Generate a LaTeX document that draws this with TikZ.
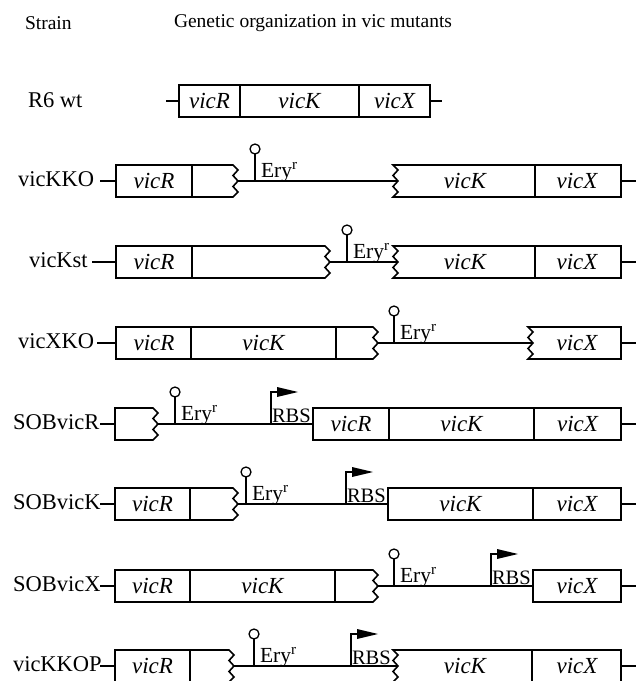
\documentclass[tikz,border=0pt]{standalone}
\usepackage{fontspec}
\setmainfont{Liberation Serif}

% gene fragment ending on the right in a broken (zigzag) edge: #1 left x, #2 zigzag x, #3 row y
\newcommand{\leftpiece}[3]{%
  \draw[gene] (#2,#3-16) -- (#1,#3-16) -- (#1,#3+16) -- (#2,#3+16)
    -- (#2+5,#3+11) -- (#2,#3+5.5) -- (#2+5,#3) -- (#2,#3-5.5) -- (#2+5,#3-11) -- cycle;}
% gene fragment starting on the left with a broken edge: #1 zigzag x, #2 right x, #3 row y
\newcommand{\rightpiece}[3]{%
  \draw[gene] (#1,#3-16) -- (#2,#3-16) -- (#2,#3+16) -- (#1,#3+16)
    -- (#1+5,#3+11) -- (#1,#3+5.5) -- (#1+5,#3) -- (#1,#3-5.5) -- (#1+5,#3-11) -- cycle;}
% plain gene box: #1 left x, #2 right x, #3 row y
\newcommand{\genebox}[3]{\draw[gene] (#1,#3-16) rectangle (#2,#3+16);}
% border between two genes: #1 x, #2 row y
\newcommand{\genesep}[2]{\draw[gene] (#1,#2-16) -- (#1,#2+16);}
% terminator with resistance marker: #1 name, #2 x, #3 row y
\newcommand{\eryterm}[3]{%
  \coordinate (#1-foot) at (#2,#3);
  \coordinate (#1-head) at (#2,#3-27);
  \draw[dna] (#1-foot) -- (#1-head);
  \draw[line width=1.3pt] (#2,#3-32) circle[radius=5pt];
  \node[erytxt] (#1-txt) at (#2+6,#3-4) {Ery\textsuperscript{r}};}
% promoter arrow with RBS: #1 name, #2 x, #3 row y
\newcommand{\rbsprom}[3]{%
  \coordinate (#1-foot) at (#2,#3);
  \coordinate (#1-bend) at (#2,#3-32);
  \coordinate (#1-base) at (#2+6,#3-32);
  \draw[dna] (#1-foot) -- (#1-bend) -- (#1-base);
  \fill (#2+6,#3-37) -- (#2+27,#3-32) -- (#2+6,#3-27) -- cycle;
  \node[rbstxt] (#1-txt) at (#2+1,#3-1.5) {RBS};}

\begin{document}
\begin{tikzpicture}[x=1pt,y=-1pt,
  every node/.style={inner sep=0pt, outer sep=0pt},
  gene/.style={line width=1.6pt, line join=miter},
  dna/.style={line width=1.5pt},
  heading/.style={font=\fontsize{19.5}{21}\selectfont, anchor=west},
  strain/.style={font=\fontsize{22.5}{24}\selectfont, anchor=west},
  gname/.style={font=\fontsize{23}{25}\selectfont\itshape},
  erytxt/.style={font=\fontsize{21.5}{23}\selectfont, anchor=base west},
  rbstxt/.style={font=\fontsize{20.5}{22}\selectfont, anchor=base west}]
\useasboundingbox (0,0) rectangle (636,681);

% headings
\node[heading] (hstrain) at (25,23) {Strain};
\node[heading] (htitle) at (174,23) {Genetic organization in vic mutants};

% ---------- R6 wt
\node[strain] (sR6) at (28,100) {R6 wt};
\coordinate (r6a) at (166,101); \coordinate (r6b) at (179,101);
\coordinate (r6c) at (430,101); \coordinate (r6d) at (442,101);
\draw[dna] (r6a) -- (r6b); \draw[dna] (r6c) -- (r6d);
\genebox{179}{430}{101} \genesep{240}{101} \genesep{359}{101}
\node[gname] (r6R) at (209.5,101) {vicR};
\node[gname] (r6K) at (299.5,101) {vicK};
\node[gname] (r6X) at (394.5,101) {vicX};

% ---------- vicKKO
\node[strain] (sKKO) at (18,179) {vicKKO};
\coordinate (kkoA) at (100,181); \coordinate (kkoB) at (116,181);
\coordinate (kkoC) at (238,181); \coordinate (kkoD) at (398,181);
\coordinate (kkoE) at (621,181); \coordinate (kkoF) at (636,181);
\draw[dna] (kkoA) -- (kkoB); \draw[dna] (kkoC) -- (kkoD); \draw[dna] (kkoE) -- (kkoF);
\leftpiece{116}{233}{181} \genesep{192}{181}
\rightpiece{393}{621}{181} \genesep{535}{181}
\node[gname] (kkoR) at (154,181) {vicR};
\node[gname] (kkoK) at (465,181) {vicK};
\node[gname] (kkoX) at (577,181) {vicX};
\eryterm{kkoT}{255}{181}

% ---------- vicKst
\node[strain] (sKst) at (29,260) {vicKst};
\coordinate (kstA) at (92,262); \coordinate (kstB) at (116,262);
\coordinate (kstC) at (330,262); \coordinate (kstD) at (398,262);
\coordinate (kstE) at (621,262); \coordinate (kstF) at (636,262);
\draw[dna] (kstA) -- (kstB); \draw[dna] (kstC) -- (kstD); \draw[dna] (kstE) -- (kstF);
\leftpiece{116}{325}{262} \genesep{192}{262}
\rightpiece{393}{621}{262} \genesep{535}{262}
\node[gname] (kstR) at (154,262) {vicR};
\node[gname] (kstK) at (465,262) {vicK};
\node[gname] (kstX) at (577,262) {vicX};
\eryterm{kstT}{347}{262}

% ---------- vicXKO
\node[strain] (sXKO) at (18,341) {vicXKO};
\coordinate (xkoA) at (97,343); \coordinate (xkoB) at (116,343);
\coordinate (xkoC) at (378,343); \coordinate (xkoD) at (533,343);
\coordinate (xkoE) at (621,343); \coordinate (xkoF) at (636,343);
\draw[dna] (xkoA) -- (xkoB); \draw[dna] (xkoC) -- (xkoD); \draw[dna] (xkoE) -- (xkoF);
\leftpiece{116}{373}{343} \genesep{191}{343} \genesep{336}{343}
\rightpiece{528}{621}{343}
\node[gname] (xkoR) at (154,343) {vicR};
\node[gname] (xkoK) at (263.5,343) {vicK};
\node[gname] (xkoX) at (577,343) {vicX};
\eryterm{xkoT}{394}{343}

% ---------- SOBvicR
\node[strain] (sSR) at (13,422) {SOBvicR};
\coordinate (srA) at (100,424); \coordinate (srB) at (115,424);
\coordinate (srC) at (158,424); \coordinate (srD) at (313,424);
\coordinate (srE) at (621,424); \coordinate (srF) at (636,424);
\draw[dna] (srA) -- (srB); \draw[dna] (srC) -- (srD); \draw[dna] (srE) -- (srF);
\leftpiece{115}{153}{424}
\genebox{313}{621}{424} \genesep{389}{424} \genesep{534}{424}
\node[gname] (srR) at (351,424) {vicR};
\node[gname] (srK) at (461.5,424) {vicK};
\node[gname] (srX) at (577.5,424) {vicX};
\eryterm{srT}{175}{424}
\rbsprom{srP}{271}{424}

% ---------- SOBvicK
\node[strain] (sSK) at (13,502) {SOBvicK};
\coordinate (skA) at (100,504); \coordinate (skB) at (115,504);
\coordinate (skC) at (238,504); \coordinate (skD) at (388,504);
\coordinate (skE) at (621,504); \coordinate (skF) at (636,504);
\draw[dna] (skA) -- (skB); \draw[dna] (skC) -- (skD); \draw[dna] (skE) -- (skF);
\leftpiece{115}{233}{504} \genesep{190}{504}
\genebox{388}{621}{504} \genesep{533}{504}
\node[gname] (skR) at (152.5,504) {vicR};
\node[gname] (skK) at (460.5,504) {vicK};
\node[gname] (skX) at (577,504) {vicX};
\eryterm{skT}{246}{504}
\rbsprom{skP}{346}{504}

% ---------- SOBvicX
\node[strain] (sSX) at (13,584) {SOBvicX};
\coordinate (sxA) at (100,586); \coordinate (sxB) at (115,586);
\coordinate (sxC) at (378,586); \coordinate (sxD) at (533,586);
\coordinate (sxE) at (621,586); \coordinate (sxF) at (636,586);
\draw[dna] (sxA) -- (sxB); \draw[dna] (sxC) -- (sxD); \draw[dna] (sxE) -- (sxF);
\leftpiece{115}{373}{586} \genesep{190}{586} \genesep{335}{586}
\genebox{533}{621}{586}
\node[gname] (sxR) at (152.5,586) {vicR};
\node[gname] (sxK) at (262.5,586) {vicK};
\node[gname] (sxX) at (577,586) {vicX};
\eryterm{sxT}{394}{586}
\rbsprom{sxP}{491}{586}

% ---------- vicKKOP
\node[strain] (sKKOP) at (13,664) {vicKKOP};
\coordinate (kpA) at (100,666); \coordinate (kpB) at (115,666);
\coordinate (kpC) at (234,666); \coordinate (kpD) at (398,666);
\coordinate (kpE) at (621,666); \coordinate (kpF) at (636,666);
\draw[dna] (kpA) -- (kpB); \draw[dna] (kpC) -- (kpD); \draw[dna] (kpE) -- (kpF);
\leftpiece{115}{229}{666} \genesep{190}{666}
\rightpiece{393}{621}{666} \genesep{532}{666}
\node[gname] (kpR) at (152.5,666) {vicR};
\node[gname] (kpK) at (465,666) {vicK};
\node[gname] (kpX) at (577,666) {vicX};
\eryterm{kpT}{254}{666}
\rbsprom{kpP}{351}{666}
\end{tikzpicture}
\end{document}
